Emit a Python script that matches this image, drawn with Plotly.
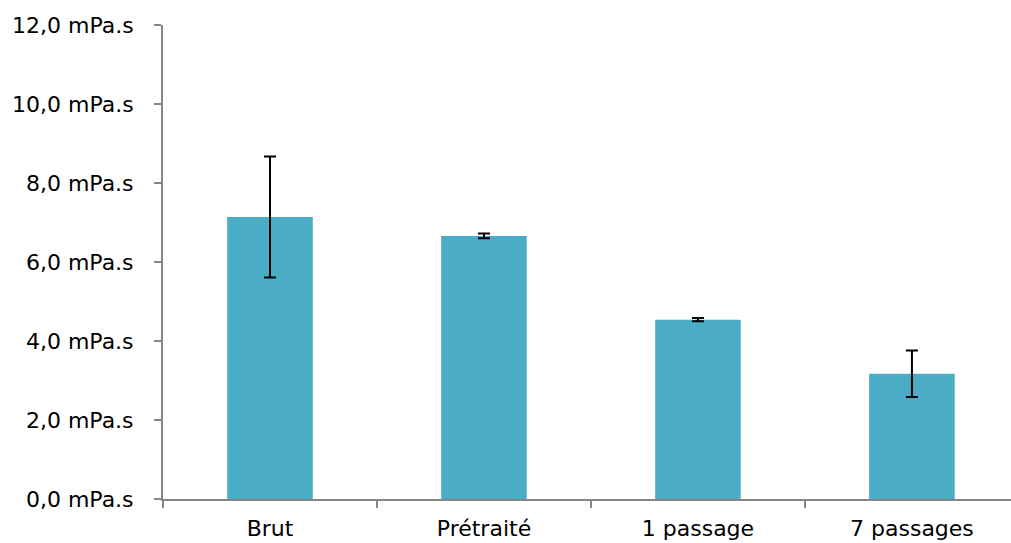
import plotly.graph_objects as go

categories = ["Brut", "Prétraité", "1 passage", "7 passages"]
values = [7.14, 6.66, 4.54, 3.17]
errors = [1.53, 0.06, 0.04, 0.59]
y_ticks = [0, 2, 4, 6, 8, 10, 12]
y_labels = ["0,0 mPa.s", "2,0 mPa.s", "4,0 mPa.s", "6,0 mPa.s", "8,0 mPa.s", "10,0 mPa.s", "12,0 mPa.s"]

fig = go.Figure(go.Bar(
    x=categories, y=values, width=0.4,
    marker=dict(color="#4BACC6", line=dict(width=0)),
    error_y=dict(type="data", array=errors, visible=True, color="black", thickness=2, width=6),
))

fig.update_layout(
    width=1011, height=543,
    margin=dict(l=163, r=0, t=25, b=44),
    plot_bgcolor="white", paper_bgcolor="white",
    font=dict(family="DejaVu Sans, Arial, sans-serif", size=22, color="black"),
    showlegend=False,
)
fig.update_xaxes(
    range=[-0.5, 3.463], showline=True, linecolor="#868686", linewidth=2,
    ticks="outside", tickson="boundaries", ticklen=7, tickcolor="#868686", tickwidth=2,
    showgrid=False, ticklabelstandoff=9, automargin=False,
)
fig.update_yaxes(
    range=[0, 12], tickvals=y_ticks, ticktext=y_labels, showline=True, linecolor="#868686", linewidth=2,
    ticks="outside", ticklen=7, tickcolor="#868686", tickwidth=2, showgrid=False, zeroline=False,
    ticklabelstandoff=16, automargin=False,
)
fig.write_html("out.html", config={"displayModeBar": False},
               post_script="document.body.style.margin='0';document.body.style.overflow='hidden';")
